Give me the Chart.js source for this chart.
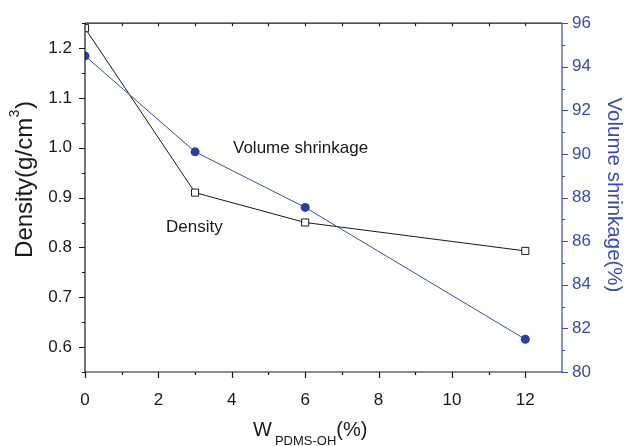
<!DOCTYPE html>
<html><head><meta charset="utf-8">
<script src="https://cdn.jsdelivr.net/npm/chart.js@4/dist/chart.umd.min.js"></script>
<style>html,body{margin:0;padding:0;background:#fff}#wrap{width:627px;height:446px;position:relative}</style>
</head><body><div id="wrap"><canvas id="c" width="627" height="446"></canvas></div>
<script>
const wContent = [0, 3, 6, 12];
const densityValues = [1.24, 0.91, 0.85, 0.793];
const shrinkageValues = [94.5, 90.1, 87.55, 81.5];
const xTickLabels = [0, 2, 4, 6, 8, 10, 12];
const densityTicks = [0.6, 0.7, 0.8, 0.9, 1.0, 1.1, 1.2];
const shrinkageTicks = [80, 82, 84, 86, 88, 90, 92, 94, 96];

const FONT = "'Liberation Sans', Arial, sans-serif";
const BLUE = '#3a4da8';
const DOT = '#2c3f9c';
const INK = '#1a1a1a';

const frame = {
  id: 'frame',
  afterDatasetsDraw(chart) {
    const ctx = chart.ctx, a = chart.chartArea;
    const x = chart.scales.x, y = chart.scales.y, y2 = chart.scales.y2;
    ctx.save();
    ctx.lineWidth = 1.2;
    ctx.strokeStyle = INK;
    ctx.beginPath();
    ctx.moveTo(a.left, a.top); ctx.lineTo(a.right, a.top);
    ctx.moveTo(a.left, a.top); ctx.lineTo(a.left, a.bottom + 1);
    ctx.moveTo(a.left, a.bottom); ctx.lineTo(a.right, a.bottom);
    ctx.stroke();
    ctx.beginPath();
    for (let v = 0; v <= 12; v++) {
      const px = Math.round(x.getPixelForValue(v)) + 0.5;
      const major = v % 2 === 0;
      ctx.moveTo(px, a.bottom); ctx.lineTo(px, a.bottom + (major ? 6 : 3));
      if (v > 0) { ctx.moveTo(px, a.top); ctx.lineTo(px, a.top + 3); }
    }
    for (let k = 0; k <= 14; k++) {
      const v = 0.55 + k * 0.05;
      const py = Math.round(y.getPixelForValue(v)) + 0.5;
      const major = k % 2 === 1;
      ctx.moveTo(a.left, py); ctx.lineTo(a.left - (major ? 6 : 3), py);
    }
    ctx.stroke();
    ctx.strokeStyle = BLUE;
    ctx.beginPath();
    ctx.moveTo(a.right, a.top); ctx.lineTo(a.right, a.bottom + 1);
    for (let v = 80; v <= 96; v++) {
      const py = Math.round(y2.getPixelForValue(v)) + 0.5;
      const major = v % 2 === 0;
      ctx.moveTo(a.right, py); ctx.lineTo(a.right + (major ? 6 : 3), py);
    }
    ctx.stroke();

    ctx.fillStyle = INK;
    ctx.textBaseline = 'middle';
    ctx.textAlign = 'left';
    ctx.font = '17px ' + FONT;
    ctx.fillText('Volume shrinkage', 233, 148);
    ctx.fillText('Density', 166, 227);

    ctx.save();
    ctx.translate(24, 180);
    ctx.rotate(-Math.PI / 2);
    ctx.textBaseline = 'alphabetic';
    const big = '24px ' + FONT, sup = '14px ' + FONT;
    ctx.font = big; const w1 = ctx.measureText('Density(g/cm').width;
    ctx.font = sup; const w2 = ctx.measureText('3').width;
    ctx.font = big; const w3 = ctx.measureText(')').width;
    let sx = -(w1 + w2 + w3) / 2;
    ctx.font = big; ctx.fillText('Density(g/cm', sx, 8);
    ctx.font = sup; ctx.fillText('3', sx + w1 + 0.5, -5);
    ctx.font = big; ctx.fillText(')', sx + w1 + w2 + 1, 8);
    ctx.restore();

    ctx.save();
    ctx.translate(614, 195);
    ctx.rotate(Math.PI / 2);
    ctx.fillStyle = BLUE;
    ctx.textAlign = 'center';
    ctx.textBaseline = 'middle';
    ctx.font = '20.5px ' + FONT;
    ctx.fillText('Volume shrinkage(%)', 0, 0);
    ctx.restore();

    ctx.textBaseline = 'alphabetic';
    ctx.textAlign = 'left';
    ctx.fillStyle = INK;
    let tx = 253;
    ctx.font = '20px ' + FONT; ctx.fillText('W', tx, 436);
    tx += ctx.measureText('W').width + 3;
    ctx.font = '13px ' + FONT; ctx.fillText('PDMS-OH', tx, 445);
    tx += ctx.measureText('PDMS-OH').width;
    ctx.font = '20px ' + FONT; ctx.fillText('(%)', tx, 436);
    ctx.restore();
  }
};

new Chart(document.getElementById('c'), {
  type: 'scatter',
  data: {
    datasets: [
      {
        label: 'Density',
        data: wContent.map((w, i) => ({ x: w, y: densityValues[i] })),
        yAxisID: 'y',
        showLine: true,
        borderColor: INK,
        borderWidth: 1,
        pointStyle: 'rect',
        pointRadius: 5,
        pointBackgroundColor: '#ffffff',
        pointBorderColor: INK,
        pointBorderWidth: 1,
        clip: 0,
        order: 1
      },
      {
        label: 'Volume shrinkage',
        data: wContent.map((w, i) => ({ x: w, y: shrinkageValues[i] })),
        yAxisID: 'y2',
        showLine: true,
        borderColor: BLUE,
        borderWidth: 1,
        pointStyle: 'circle',
        pointRadius: 4.5,
        pointBackgroundColor: DOT,
        pointBorderColor: DOT,
        pointBorderWidth: 0,
        clip: 0,
        order: 0
      }
    ]
  },
  options: {
    responsive: false,
    animation: false,
    devicePixelRatio: 1,
    layout: { padding: { top: 20, left: 0, right: 0, bottom: 0 } },
    plugins: { legend: { display: false }, tooltip: { enabled: false } },
    scales: {
      x: {
        type: 'linear', min: 0, max: 13,
        afterBuildTicks: s => { s.ticks = xTickLabels.map(v => ({ value: v })); },
        afterFit: s => { s.height = 74; },
        grid: { display: false, drawTicks: false },
        border: { display: false },
        ticks: { font: { family: FONT, size: 17 }, color: INK, padding: 18, maxRotation: 0 }
      },
      y: {
        position: 'left', min: 0.55, max: 1.25,
        afterBuildTicks: s => { s.ticks = densityTicks.map(v => ({ value: v })); },
        afterFit: s => { s.width = 85; },
        grid: { display: false, drawTicks: false },
        border: { display: false },
        ticks: { font: { family: FONT, size: 17 }, color: INK, padding: 13, callback: v => v.toFixed(1) }
      },
      y2: {
        position: 'right', min: 80, max: 96,
        afterBuildTicks: s => { s.ticks = shrinkageTicks.map(v => ({ value: v })); },
        afterFit: s => { s.width = 65; },
        grid: { display: false, drawTicks: false },
        border: { display: false },
        ticks: { font: { family: FONT, size: 17 }, color: BLUE, padding: 10 }
      }
    }
  },
  plugins: [frame]
});
</script>
</body></html>
